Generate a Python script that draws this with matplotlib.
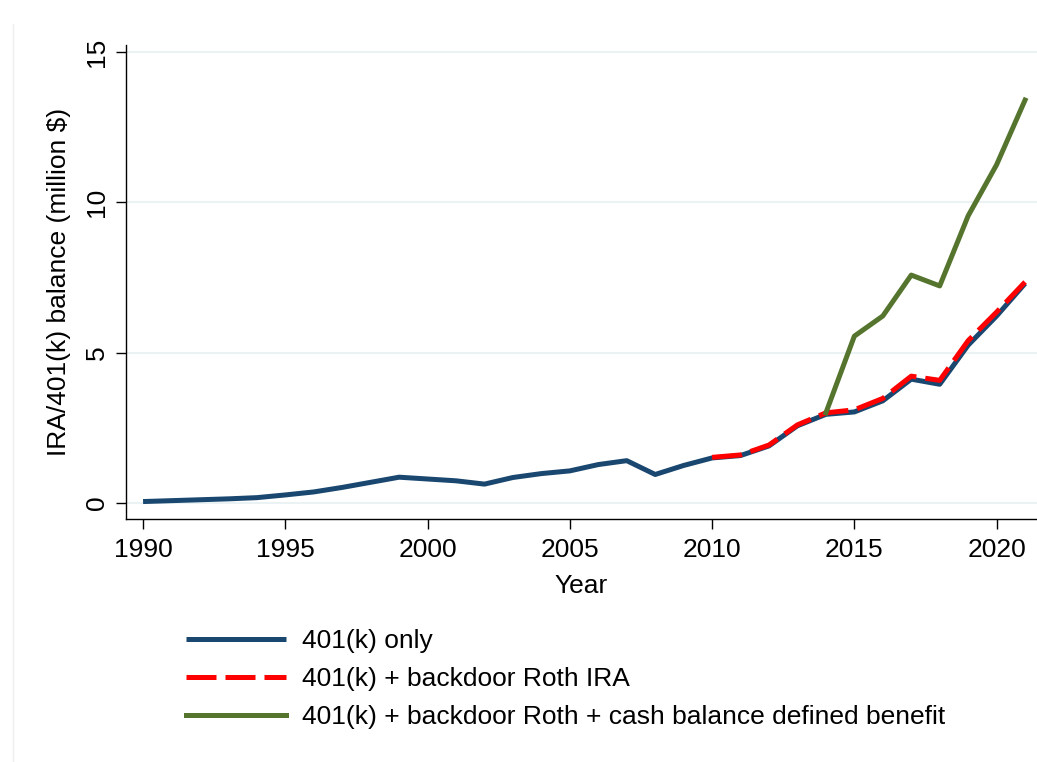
import numpy as np
import matplotlib
matplotlib.use("Agg")
import matplotlib.pyplot as plt
from matplotlib.lines import Line2D

plt.rcParams['font.family'] = ['Liberation Sans', 'DejaVu Sans']

# balances in million $
years = list(range(1990, 2022))
only_401k = [0.05, 0.08, 0.11, 0.14, 0.18, 0.27, 0.37, 0.52, 0.69, 0.86,
             0.80, 0.74, 0.63, 0.85, 0.98, 1.07, 1.28, 1.41, 0.95, 1.25,
             1.50, 1.58, 1.90, 2.57, 2.95, 3.03, 3.40, 4.12, 3.95, 5.25,
             6.22, 7.30]
roth_years = list(range(2010, 2022))
roth_ira = [1.52, 1.60, 1.93, 2.60, 3.00, 3.10, 3.48, 4.22, 4.08, 5.40,
            6.35, 7.35]
cash_years = list(range(2014, 2022))
cash_balance = [3.00, 5.55, 6.22, 7.58, 7.22, 9.55, 11.25, 13.40]

labels = ['401(k) only',
          '401(k) + backdoor Roth IRA',
          '401(k) + backdoor Roth + cash balance defined benefit']

navy = '#1a476f'
red = '#ff0000'
green = '#55752f'
fs = 19

fig = plt.figure(figsize=(10.37, 7.62), dpi=100)
ax = fig.add_axes([0.1215, 0.3189, 0.8785, 0.622])

for yv in [0, 5, 10, 15]:
    ax.axhline(yv, color='#eaf2f3', lw=1.5, zorder=0)

l1, = ax.plot(years, only_401k, color=navy, lw=3.6, solid_capstyle='butt')
l2, = ax.plot(roth_years, roth_ira, color=red, lw=3.6, dashes=(6, 1.8))
l3, = ax.plot(cash_years, cash_balance, color=green, lw=3.6)

ax.set_xlim(1989.4, 2021.42)
ax.set_ylim(-0.53, 15.23)
ax.set_xticks(np.arange(1990, 2021, 5))
ax.set_yticks([0, 5, 10, 15])
ax.tick_params(axis='both', direction='out', length=7, width=1, labelsize=fs,
               color='black')
ax.tick_params(axis='x', pad=7)
ax.tick_params(axis='y', pad=5)
for lab in ax.get_yticklabels():
    lab.set_rotation(90)
    lab.set_va('center')
ax.spines['top'].set_visible(False)
ax.spines['right'].set_visible(False)
ax.spines['left'].set_linewidth(1)
ax.spines['bottom'].set_linewidth(1)

ax.set_xlabel('Year', fontsize=fs, labelpad=8)
ax.set_ylabel('IRA/401(k) balance (million $)', fontsize=fs, labelpad=10)

fig.legend([l1, l2, l3], labels, loc='upper left',
           bbox_to_anchor=(0.169, 0.188), frameon=False, fontsize=fs,
           handlelength=3.8, handletextpad=0.6, labelspacing=0.52,
           borderaxespad=0)

# faint border of the graph region
fig.add_artist(Line2D([0.0125, 0.0125], [0.0, 0.968], color='#eeeeee', lw=1))

fig.savefig('out.png', dpi=100)
